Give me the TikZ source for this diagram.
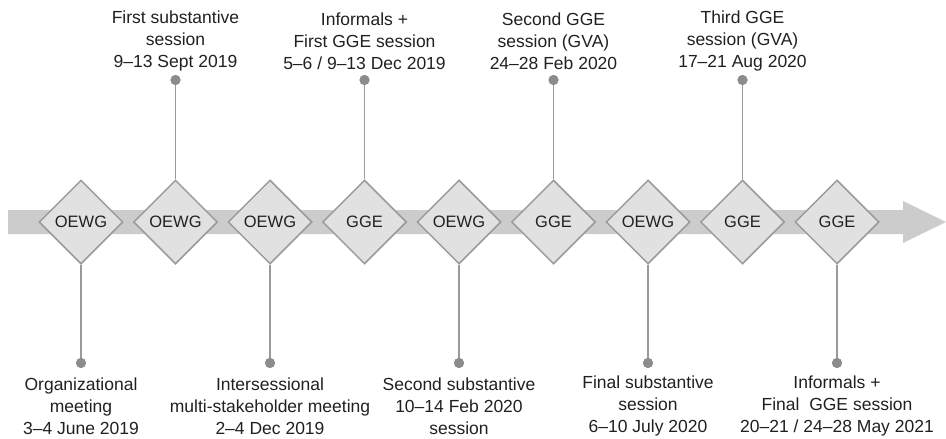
\documentclass[tikz,border=0pt]{standalone}
\usepackage{fontspec}
\setmainfont{Liberation Sans}
\usetikzlibrary{shapes.geometric}
\definecolor{band}{HTML}{CCCCCC}
\definecolor{dfill}{HTML}{E1E1E1}
\definecolor{dline}{HTML}{9A9A9A}
\definecolor{stem}{HTML}{9A9A9A}
\definecolor{dotc}{HTML}{8C8C8C}
\definecolor{txt}{HTML}{231F20}
\tikzset{
  dia/.style={diamond, draw=dline, fill=dfill, line width=1.5pt, minimum width=84pt, minimum height=84pt, inner sep=0pt, text=txt, font=\fontsize{16.5}{20}\selectfont},
  stemline/.style={draw=stem, line width=1.5pt},
  dotn/.style={circle, fill=dotc, minimum size=10pt, inner sep=0pt},
  lbl/.style={align=center, text=txt, font=\fontsize{17.5}{22}\selectfont, inner sep=0pt}
}
\begin{document}
\begin{tikzpicture}[x=1pt,y=-1pt]
\useasboundingbox (0,0) rectangle (946,439);
\fill[band] (8,210) -- (903,210) -- (903,201) -- (946,222) -- (903,243) -- (903,234) -- (8,234) -- cycle;
% diamonds
\node[dia] (d1) at (81,222) {OEWG};
\node[dia] (d2) at (175.5,222) {OEWG};
\node[dia] (d3) at (270,222) {OEWG};
\node[dia] (d4) at (364.5,222) {GGE};
\node[dia] (d5) at (459,222) {OEWG};
\node[dia] (d6) at (553.5,222) {GGE};
\node[dia] (d7) at (648,222) {OEWG};
\node[dia] (d8) at (742.5,222) {GGE};
\node[dia] (d9) at (837,222) {GGE};
% top dots
\node[dotn] (t2) at (175.5,80) {};
\node[dotn] (t4) at (364.5,80) {};
\node[dotn] (t6) at (553.5,80) {};
\node[dotn] (t8) at (742.5,80) {};
% bottom dots
\node[dotn] (b1) at (81,363) {};
\node[dotn] (b3) at (270,363) {};
\node[dotn] (b5) at (459,363) {};
\node[dotn] (b7) at (648,363) {};
\node[dotn] (b9) at (837,363) {};
% stems
\foreach \i in {2,4,6,8} { \draw[stemline] (d\i.north) -- (t\i.center); }
\foreach \i in {1,3,5,7,9} { \draw[stemline] (d\i.south) -- (b\i.center); }
% redraw dots on top
\foreach \i in {2,4,6,8} { \fill[dotc] (t\i.center) circle (5pt); }
\foreach \i in {1,3,5,7,9} { \fill[dotc] (b\i.center) circle (5pt); }
% top labels
\node[lbl] (l2) at (175.5,41) {First substantive\\session\\9--13 Sept 2019};
\node[lbl] (l4) at (364.5,41) {Informals +\\First GGE session\\5--6 / 9--13 Dec 2019};
\node[lbl] (l6) at (553.5,41) {Second GGE\\session (GVA)\\24--28 Feb 2020};
\node[lbl] (l8) at (742.5,41) {Third GGE\\session (GVA)\\17--21 Aug 2020};
% bottom labels
\node[lbl] (l1) at (81,406) {Organizational\\meeting\\3--4 June 2019};
\node[lbl] (l3) at (270,406) {Intersessional\\multi-stakeholder meeting\\2--4 Dec 2019};
\node[lbl] (l5) at (459,406) {Second substantive\\10--14 Feb 2020\\session};
\node[lbl] (l7) at (648,406) {Final substantive\\session\\6--10 July 2020};
\node[lbl] (l9) at (837,406) {Informals +\\Final\ \ GGE session\\20--21 / 24--28 May 2021};
\end{tikzpicture}
\end{document}
